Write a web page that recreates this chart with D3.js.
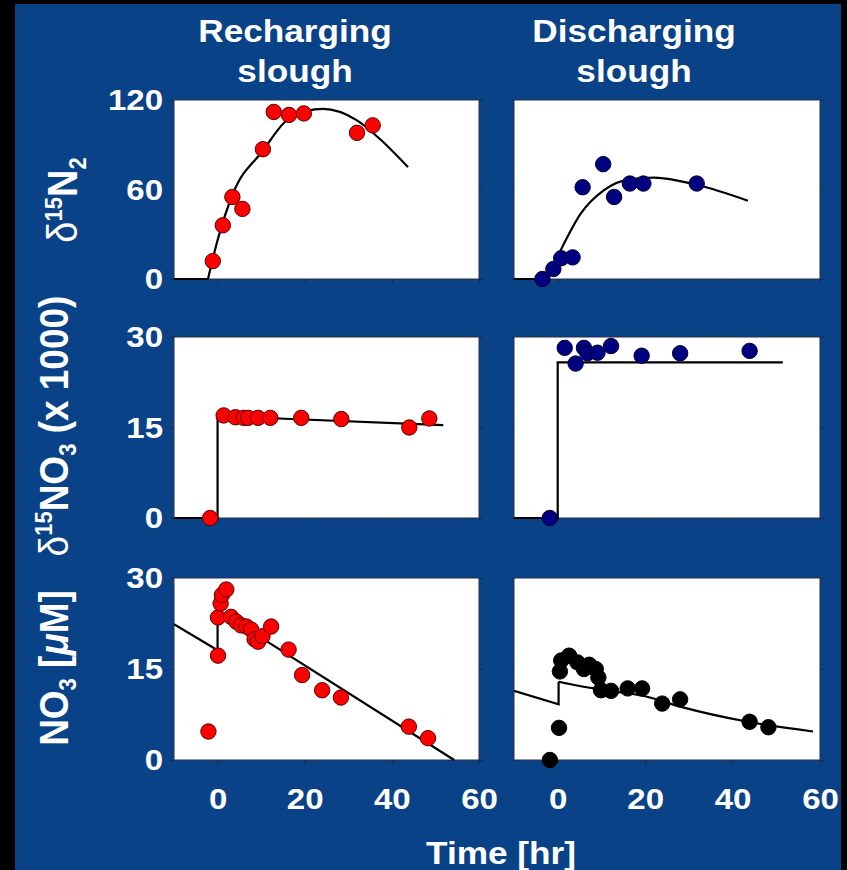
<!DOCTYPE html>
<html>
<head>
<meta charset="utf-8">
<script src="https://cdn.jsdelivr.net/npm/d3@7"></script>
<style>
  body { margin: 0; background: #000; }
  text { font-family: "Liberation Sans", Arial, sans-serif; font-weight: bold; fill: #fff; }
</style>
</head>
<body>
<div id="container"></div>
<script>
// ---- data ----
var timeTicks = [0, 20, 40, 60];
var n2Ticks = [0, 60, 120];
var no3Ticks = [0, 15, 30];

// recharging slough, d15N2
var rechN2Time = [-1.1, 1.2, 3.4, 5.7, 10.4, 12.9, 16.4, 19.8, 32, 35.6];
var rechN2Val = [12, 36, 55, 47, 87, 112, 110, 111, 98, 103];
var rechN2BaseTime = [-10, -2.2];
var rechN2BaseVal = [0, 0];
var rechN2FitTime = [-2.2, 0, 3.5, 10.4, 16.6, 24.2, 31.9, 37.2, 43.7];
var rechN2FitVal = [0, 26, 57, 86, 108, 114, 106.5, 94, 75];

// discharging slough, d15N2
var disN2Time = [-3.5, -1.0, 0.8, 3.4, 5.7, 10.4, 12.9, 16.5, 19.6, 31.8];
var disN2Val = [0, 6.7, 13.9, 14.5, 61.5, 77, 55, 64, 64, 64];
var disN2BaseTime = [-10, -2.4];
var disN2BaseVal = [0, 0];
var disN2FitTime = [-2.4, 0.7, 5.3, 10.6, 16.7, 22.1, 32, 43.5];
var disN2FitVal = [0, 19.4, 44, 59.6, 67, 68, 63, 52.5];

// recharging slough, d15NO3 (x 1000)
var rechNO3Time = [-1.7, 1.4, 4.1, 6.0, 7.0, 9.3, 12.1, 19.2, 28.4, 44, 48.6];
var rechNO3Val = [0, 17, 16.7, 16.6, 16.6, 16.6, 16.6, 16.6, 16.4, 15, 16.5];
var rechNO3FitTime = [-10, 0, 0, 51.8];
var rechNO3FitVal = [0, 0, 16.9, 15.4];

// discharging slough, d15NO3 (x 1000)
var disNO3Time = [-1.8, 1.6, 4.1, 6.0, 6.8, 9.1, 12.2, 19.2, 28, 43.9];
var disNO3Val = [0, 28.2, 25.6, 28.2, 27.3, 27.4, 28.5, 26.9, 27.3, 27.7];
var disNO3FitTime = [-10, 0, 0, 51.5];
var disNO3FitVal = [0, 0, 25.8, 25.8];

// recharging slough, NO3 [uM]
var rechConcTime = [-2.1, 0.1, 0.1, 0.7, 1.0, 2.0, 3.1, 4.3, 5.4, 6.6, 7.7, 8.5, 9.3, 10.3,
  12.3, 16.3, 19.4, 24, 28.3, 43.9, 48.3];
var rechConcVal = [4.7, 17.2, 23.5, 25.8, 27.2, 28.1, 23.6, 22.8, 22.2, 22, 21.5, 19.9, 19.5, 20.4,
  22, 18.2, 14, 11.5, 10.3, 5.5, 3.6];
var rechConcFitTime = [-10, 0, 0, 54.3];
var rechConcFitVal = [22.4, 18.1, 24.7, 0];

// discharging slough, NO3 [uM]
var disConcTime = [-1.8, 0.3, 0.5, 0.8, 2.6, 4.5, 6.0, 7.2, 8.7, 9.3, 9.9, 12.2, 16, 19.3,
  23.9, 28, 43.9, 48.2];
var disConcVal = [0, 5.3, 14.6, 16.4, 17.2, 16.1, 15, 15.7, 15, 13.6, 11.5, 11.4, 11.8, 11.8,
  9.3, 10, 6.3, 5.4];
var disConcBaseTime = [-10, 0.2, 0.2];
var disConcBaseVal = [11.4, 9.2, 12.9];
var disConcFitTime = [0.2, 5, 12, 20, 28, 43.5, 58.4];
var disConcFitVal = [12.9, 12.2, 11.4, 10.5, 8.8, 6.3, 4.7];

var width = 847;
var height = 870;
var stretch = 1.1; // slide text is a little wider than tall

var svg = d3.select("#container").append("svg")
  .attr("width", width)
  .attr("height", height);

// slide background
svg.append("rect").attr("width", width).attr("height", height).attr("fill", "#000");
svg.append("rect")
  .attr("x", 15).attr("y", 4)
  .attr("width", 841 - 15).attr("height", height - 4)
  .attr("fill", "#0a4288");

var cols = [[174, 479], [514, 820]];
var rows = [
  { top: 100, bottom: 279, domain: [0, 120], ticks: n2Ticks },
  { top: 337, bottom: 518, domain: [0, 30], ticks: no3Ticks },
  { top: 578, bottom: 760, domain: [0, 30], ticks: no3Ticks }
];

var red = { fill: "#ff0000", stroke: "#5a0000" };
var navy = { fill: "#000080", stroke: "#000033" };
var black = { fill: "#000000", stroke: "#000000" };

var panels = [
  { row: 0, col: 0, t: rechN2Time, v: rechN2Val, c: red,
    fits: [[rechN2BaseTime, rechN2BaseVal, false], [rechN2FitTime, rechN2FitVal, true]] },
  { row: 0, col: 1, t: disN2Time, v: disN2Val, c: navy,
    fits: [[disN2BaseTime, disN2BaseVal, false], [disN2FitTime, disN2FitVal, true]] },
  { row: 1, col: 0, t: rechNO3Time, v: rechNO3Val, c: red,
    fits: [[rechNO3FitTime, rechNO3FitVal, false]] },
  { row: 1, col: 1, t: disNO3Time, v: disNO3Val, c: navy,
    fits: [[disNO3FitTime, disNO3FitVal, false]] },
  { row: 2, col: 0, t: rechConcTime, v: rechConcVal, c: red,
    fits: [[rechConcFitTime, rechConcFitVal, false]] },
  { row: 2, col: 1, t: disConcTime, v: disConcVal, c: black,
    fits: [[disConcBaseTime, disConcBaseVal, false], [disConcFitTime, disConcFitVal, true]] }
];

panels.forEach(function(p, i) {
  var r = rows[p.row];
  var c = cols[p.col];
  var x = d3.scaleLinear().domain([-10, 60]).range(c);
  var y = d3.scaleLinear().domain(r.domain).range([r.bottom, r.top]);

  var g = svg.append("g");

  g.append("rect")
    .attr("x", c[0]).attr("y", r.top)
    .attr("width", c[1] - c[0]).attr("height", r.bottom - r.top)
    .attr("fill", "#fff")
    .attr("stroke", "#2b2f45")
    .attr("stroke-width", 1);

  // axes: little outward ticks, labels only on the left column / bottom row
  var left = g.append("g")
    .attr("transform", "translate(" + c[0] + ",0)")
    .call(d3.axisLeft(y).tickValues(r.ticks).tickSizeInner(4).tickSizeOuter(0).tickPadding(6)
      .tickFormat(p.col == 0 ? d3.format("d") : ""));
  g.append("g")
    .attr("transform", "translate(" + c[1] + ",0)")
    .call(d3.axisRight(y).tickValues(r.ticks).tickSizeInner(4).tickSizeOuter(0).tickFormat(""));
  var bottom = g.append("g")
    .attr("transform", "translate(0," + r.bottom + ")")
    .call(d3.axisBottom(x).tickValues(timeTicks).tickSizeInner(4).tickSizeOuter(0).tickPadding(24)
      .tickFormat(p.row == 2 ? d3.format("d") : ""));

  [left, bottom].forEach(function(a) {
    a.selectAll("text")
      .attr("fill", "#fff")
      .style("font-size", "30px")
      .attr("transform", "scale(" + stretch + ",1)");
  });
  g.selectAll(".domain").remove();
  g.selectAll(".tick line").attr("stroke", "#1c2a48");

  var clipId = "clip" + i;
  g.append("clipPath").attr("id", clipId)
    .append("rect")
    .attr("x", c[0]).attr("y", r.top - 2)
    .attr("width", c[1] - c[0]).attr("height", r.bottom - r.top + 4);

  p.fits.forEach(function(f) {
    var line = d3.line()
      .x(function(d) { return x(d[0]); })
      .y(function(d) { return y(d[1]); })
      .curve(f[2] ? d3.curveMonotoneX : d3.curveLinear);
    g.append("path")
      .datum(d3.zip(f[0], f[1]))
      .attr("d", line)
      .attr("fill", "none")
      .attr("stroke", "#000")
      .attr("stroke-width", 2.2)
      .attr("clip-path", "url(#" + clipId + ")");
  });

  g.selectAll("circle")
    .data(d3.zip(p.t, p.v))
    .enter()
    .append("circle")
    .attr("cx", function(d) { return x(d[0]); })
    .attr("cy", function(d) { return y(d[1]); })
    .attr("r", 7.7)
    .attr("fill", p.c.fill)
    .attr("stroke", p.c.stroke)
    .attr("stroke-width", 1);
});

// column titles
function title(x, y, str, size) {
  svg.append("text")
    .attr("transform", "translate(" + x + "," + y + ") scale(" + stretch + ",1)")
    .attr("text-anchor", "middle")
    .style("font-size", size + "px")
    .text(str);
}
title(295, 42, "Recharging", 32);
title(295, 82, "slough", 32);
title(634, 42, "Discharging", 32);
title(634, 82, "slough", 32);
title(501, 864, "Time [hr]", 32);

// rotated y titles built from pieces (super/subscripts)
function yTitle(cx, cy, size, parts) {
  var t = svg.append("text")
    .attr("transform", "translate(" + cx + "," + cy + ") scale(" + stretch + ",1) rotate(-90)")
    .attr("text-anchor", "middle")
    .attr("dy", "0.36em")
    .style("font-size", size + "px");
  parts.forEach(function(pt) {
    var s = t.append("tspan").text(pt.s);
    if (pt.size) s.style("font-size", pt.size + "px");
    if (pt.dy) s.attr("dy", pt.dy);
    if (pt.normal) s.style("font-weight", "normal");
    if (pt.italic) s.style("font-style", "italic");
  });
}
yTitle(62, 200, 38, [
  { s: "\u03b4", normal: true },
  { s: "15", size: 22, dy: -14 },
  { s: "N", dy: 14 },
  { s: "2", size: 22, dy: 8 }
]);
yTitle(53, 426, 37, [
  { s: "\u03b4", normal: true },
  { s: "15", size: 22, dy: -14 },
  { s: "NO", dy: 14 },
  { s: "3", size: 22, dy: 8 },
  { s: " (x 1000)", dy: -8 }
]);
yTitle(53, 668, 37, [
  { s: "NO" },
  { s: "3", size: 22, dy: 8 },
  { s: " [", dy: -8 },
  { s: "\u03bc", italic: true },
  { s: "M]" }
]);
</script>
</body>
</html>
